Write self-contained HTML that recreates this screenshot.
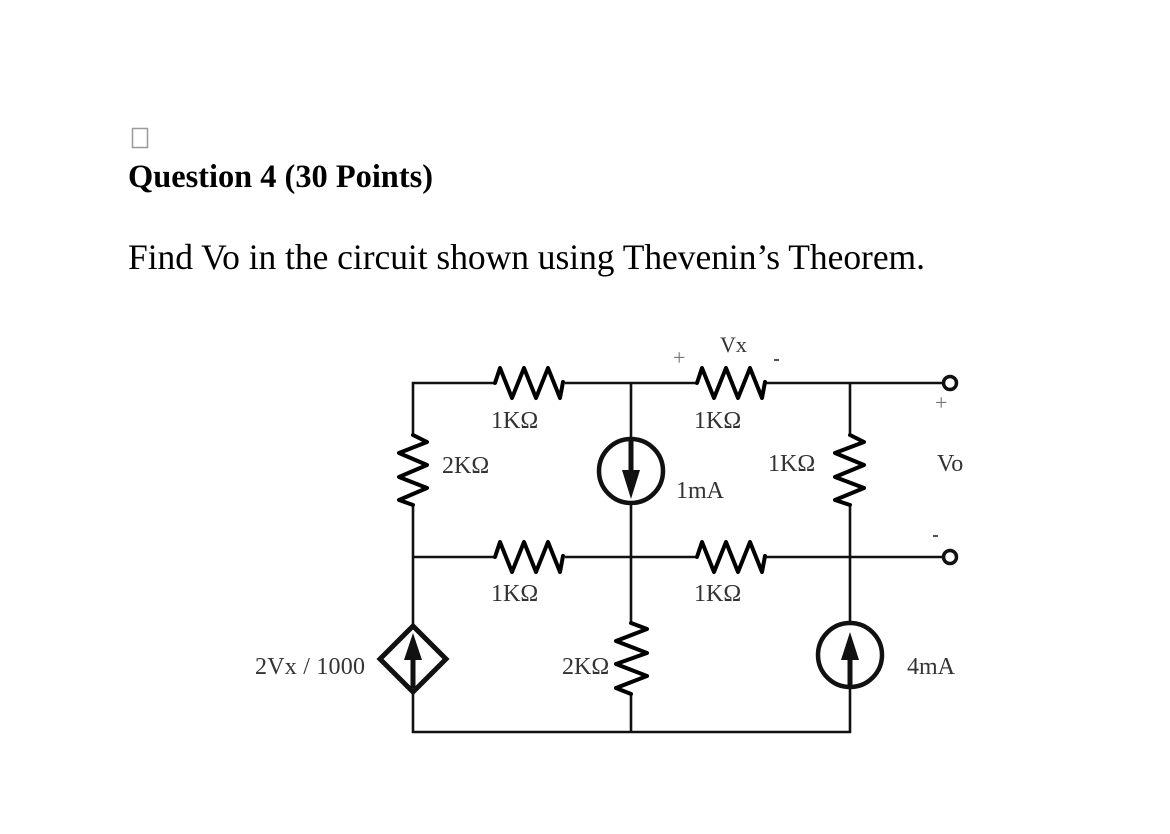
<!DOCTYPE html>
<html lang="en">
<head>
<meta charset="utf-8">
<title>Question 4</title>
<style>
html,body{margin:0;padding:0;background:#fff;width:1170px;height:834px;overflow:hidden}
svg{display:block;position:absolute;left:0;top:0}
text{font-family:"Liberation Serif",serif}
.l{font-size:24px;fill:#333}
.s{font-size:22px;fill:#333}
.w{fill:none;stroke:#111;stroke-width:2.600;stroke-linejoin:miter}
.r{fill:none;stroke:#000;stroke-width:4;stroke-linejoin:round;stroke-linecap:round}
</style>
</head>
<body>
<svg width="1170" height="834" viewBox="0 0 1170 834" xmlns="http://www.w3.org/2000/svg">
<rect x="132.500" y="128.500" width="15" height="19" fill="#fff" stroke="#999" stroke-width="1.500"/>
<text x="128" y="187" font-size="32.400" font-weight="bold" fill="#000" textLength="305" lengthAdjust="spacing">Question 4 (30 Points)</text>
<text x="128" y="269" font-size="35.500" fill="#000" textLength="797" lengthAdjust="spacing">Find Vo in the circuit shown using Thevenin’s Theorem.</text>
<g style="filter:blur(.35px)">
<path class="w" d="M495 383H413V435M413 505V626M413 692V732H850V688M850 622V505M850 435V383M565 383H697M766 383H943M631 383V439M631 503V623M631 694V732M413 557H495M565 557H697M766 557H943"/>
<polyline class="r" points="495,383 500,368 512,398 524,368 536,398 548,368 560,398 563,382"/>
<polyline class="r" points="697,383 702,368 714,398 726,368 738,398 750,368 762,398 765,382"/>
<polyline class="r" points="495,557 500,542 512,572 524,542 536,572 548,542 560,572 563,556"/>
<polyline class="r" points="697,557 702,542 714,572 726,542 738,572 750,542 762,572 765,556"/>
<polyline class="r" points="413,435 427,442 399,453 427,465 399,477 427,488 399,500 413,505"/>
<polyline class="r" points="850,435 864,442 835,453 864,465 835,477 864,488 835,500 850,505"/>
<polyline class="r" points="631,623 647,629 616,641 647,653 616,664 647,676 616,688 631,694"/>
<circle cx="631" cy="471" r="32" fill="#fff" stroke="#111" stroke-width="4.500"/>
<path d="M631 437V475" stroke="#111" stroke-width="5" fill="none"/>
<path d="M622 470H640L631 499Z" fill="#111"/>
<circle cx="850" cy="655" r="32" fill="#fff" stroke="#111" stroke-width="4.500"/>
<path d="M850 689V655" stroke="#111" stroke-width="5" fill="none"/>
<path d="M841 660H859L850 632Z" fill="#111"/>
<path d="M413 626L446 659L413 692L380 659Z" fill="#fff" stroke="#111" stroke-width="5"/>
<path d="M413 688V655" stroke="#111" stroke-width="5" fill="none"/>
<path d="M404 660H422L413 633Z" fill="#111"/>
<circle cx="950" cy="383" r="6.500" fill="#fff" stroke="#111" stroke-width="3.500"/>
<circle cx="950" cy="557" r="6.500" fill="#fff" stroke="#111" stroke-width="3.500"/>
<text class="l" x="491" y="428">1KΩ</text>
<text class="l" x="694" y="428">1KΩ</text>
<text class="l" x="491" y="601">1KΩ</text>
<text class="l" x="694" y="601">1KΩ</text>
<text class="l" x="442" y="473">2KΩ</text>
<text class="l" x="768" y="471">1KΩ</text>
<text class="l" x="676" y="498">1mA</text>
<text class="l" x="562" y="674">2KΩ</text>
<text class="l" x="255" y="674" textLength="110" lengthAdjust="spacing">2Vx / 1000</text>
<text class="l" x="907" y="674">4mA</text>
<text class="s" x="720" y="352">Vx</text>
<text class="l" x="937" y="471">Vo</text>
<text class="s" x="673" y="365" style="fill:#777">+</text>
<text class="s" x="935" y="410" style="fill:#777">+</text>
<rect x="774" y="359" width="5" height="2" fill="#555"/>
<rect x="933" y="535" width="5" height="2" fill="#555"/>
</g>
</svg>
</body>
</html>
